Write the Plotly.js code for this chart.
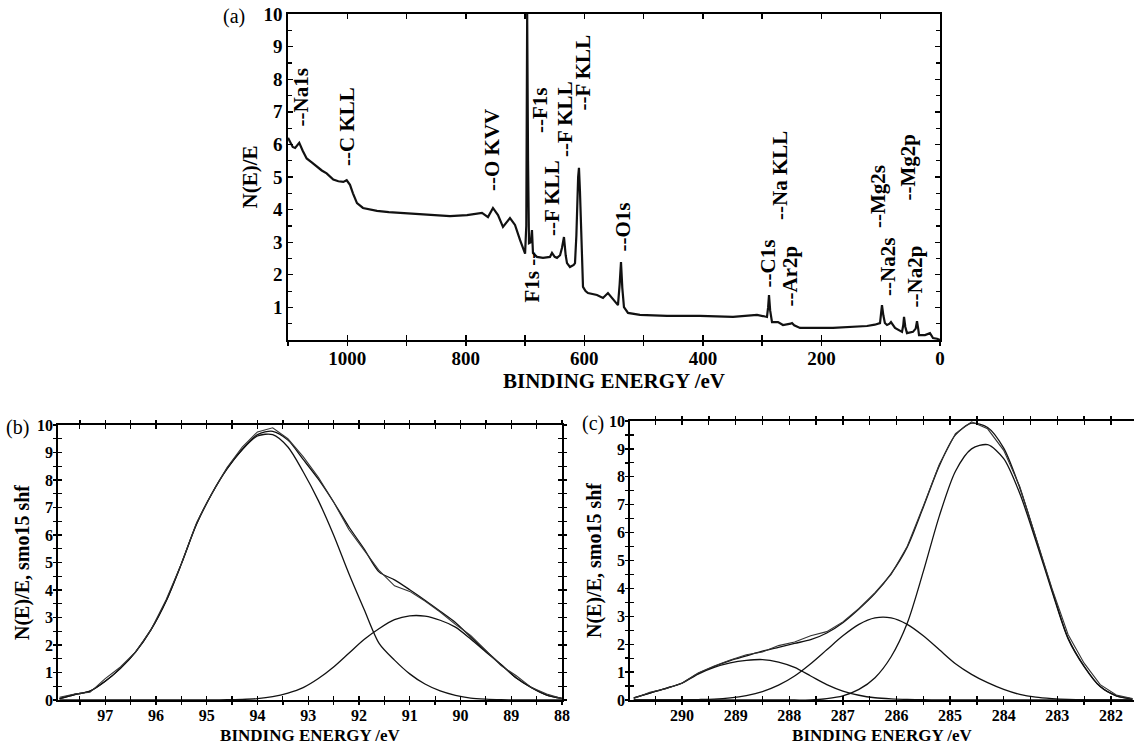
<!DOCTYPE html>
<html><head><meta charset="utf-8">
<script src="https://cdn.plot.ly/plotly-3.0.1.min.js"></script>
<style>html,body{margin:0;padding:0;background:#fff}#chart{width:1134px;height:747px}</style>
</head><body><div id="chart"></div>
<script>
// ---------- Panel (a): survey spectrum ----------
const surveyBE = [1100,1092,1088,1081,1075,1068.5,1060,1051.7,1043,1034.8,1023.6,1015,1006.7,1001,995.4,990.4,983.6,973.5,960,949.9,930,911,880,855.4,826.7,798,785,772.7,762.6,754.2,745.7,737.3,725.5,717,708.6,703,700,698,696.5,695,693.4,690.5,688.4,686.7,680,669.8,658,654.6,650,646.2,641,637.8,634.4,631.5,629.3,624.3,618,615.8,613.5,610.5,609.1,607.5,605.7,602.3,598,593.9,578.7,568.6,560.2,554,548.3,543.3,540.5,538.2,536,533.2,526.4,506.2,460.6,405,349.2,308.8,295,291.9,290,288.5,286.5,283.4,273.3,264.9,252,249.7,246,236.2,180.5,150,123.2,110,101.2,99.5,97.9,95.5,93,89.4,85,82.7,79,75.9,64.1,62,60.7,58.5,55.7,45.6,41,38.8,36.8,35.4,25.3,16.9,11.8,5,0];
const surveyN = [6.2,5.92,5.89,6.05,5.8,5.57,5.45,5.32,5.2,5.11,4.92,4.87,4.85,4.9,4.76,4.5,4.2,4.05,3.99,3.96,3.92,3.9,3.86,3.83,3.8,3.83,3.86,3.9,3.77,4.05,3.83,3.47,3.74,3.53,3.07,2.75,2.65,3.5,10,5.5,2.97,3.0,3.37,2.67,2.55,2.52,2.55,2.67,2.55,2.52,2.6,2.82,3.16,2.6,2.36,2.24,2.3,2.36,3.2,5.0,5.28,4.6,3.28,1.63,1.5,1.44,1.38,1.29,1.44,1.3,1.17,1.07,1.7,2.39,1.6,1.01,0.83,0.77,0.74,0.74,0.71,0.77,0.72,0.71,1.0,1.38,0.9,0.55,0.55,0.46,0.5,0.52,0.45,0.37,0.37,0.4,0.43,0.47,0.52,0.8,1.07,0.75,0.52,0.46,0.5,0.55,0.45,0.37,0.25,0.45,0.71,0.4,0.21,0.25,0.35,0.58,0.35,0.15,0.15,0.21,0.06,0.04,0];
const surveyTickVals = [0,100,200,300,400,500,600,700,800,900,1000,1100];
const surveyTickText = ['0','','200','','400','','600','','800','','1000',''];
const surveyYTicks = [1,2,3,4,5,6,7,8,9,10];
const peakLabels = ['--Na1s','--C KLL','--O KVV','F1s --','--F1s','--F KLL','--F KLL','--F KLL','--O1s','--C1s','--Na KLL','--Ar2p','--Mg2s','--Na2s','--Mg2p','--Na2p'];

// ---------- Panel (b): Mg 2s region ----------
const mgBE = [97.9,97.6,97.3,97.0,96.7,96.4,96.1,95.8,95.5,95.2,94.9,94.6,94.3,94.0,93.7,93.4,93.1,92.8,92.5,92.2,91.9,91.6,91.3,91.0,90.7,90.4,90.1,89.8,89.5,89.2,88.9,88.6,88.3,88.0];
const mgRaw = [0.1,0.22,0.28,0.78,1.2,1.75,2.55,3.65,4.95,6.45,7.5,8.45,9.2,9.75,9.9,9.5,8.85,8.1,7.2,6.2,5.45,4.7,4.15,3.95,3.6,3.2,2.75,2.35,1.8,1.25,0.88,0.45,0.22,0.05];
const mgEnvelope = [0.05,0.2,0.32,0.68,1.15,1.75,2.55,3.6,4.95,6.4,7.5,8.41,9.12,9.65,9.77,9.45,8.75,8.03,7.2,6.3,5.5,4.65,4.37,4.01,3.63,3.23,2.82,2.29,1.78,1.29,0.8,0.45,0.18,0.06];
const mgComp1 = [0.05,0.2,0.32,0.68,1.15,1.75,2.55,3.6,4.95,6.4,7.5,8.4,9.1,9.6,9.65,9.2,8.3,7.25,6.0,4.6,3.3,2.05,1.45,0.95,0.58,0.33,0.17,0.07,0.03,0.01,0,0,0,0];
const mgComp2 = [0,0,0,0,0,0,0,0,0,0,0,0.01,0.02,0.05,0.12,0.25,0.45,0.78,1.2,1.7,2.2,2.6,2.92,3.06,3.05,2.9,2.65,2.22,1.75,1.28,0.8,0.45,0.18,0.06];
const mgTicks = [88,89,90,91,92,93,94,95,96,97];

// ---------- Panel (c): C 1s region ----------
const cBE = [290.9,290.6,290.3,290.0,289.7,289.4,289.1,288.8,288.5,288.2,287.9,287.6,287.3,287.0,286.7,286.4,286.1,285.8,285.5,285.2,284.9,284.6,284.3,284.0,283.7,283.4,283.1,282.8,282.5,282.2,281.9,281.6];
const cRaw = [0.05,0.28,0.4,0.6,0.97,1.22,1.43,1.62,1.72,1.95,2.08,2.3,2.45,2.8,3.28,3.85,4.5,5.5,6.95,8.45,9.55,9.97,9.72,8.95,7.65,5.85,4.0,2.35,1.32,0.55,0.18,0.05];
const cEnvelope = [0.08,0.25,0.42,0.61,0.95,1.2,1.41,1.58,1.75,1.89,2.03,2.16,2.4,2.77,3.26,3.82,4.53,5.48,6.91,8.4,9.5,9.92,9.77,9.03,7.6,5.8,3.95,2.22,1.21,0.48,0.15,0.04];
const cCompMain = [0,0,0,0,0,0,0,0,0,0,0,0,0.05,0.15,0.38,0.8,1.55,2.75,4.6,6.6,8.2,9.0,9.15,8.65,7.4,5.7,3.9,2.2,1.2,0.48,0.15,0.04];
const cCompMid = [0,0,0,0.005,0.015,0.03,0.075,0.16,0.3,0.53,0.86,1.3,1.8,2.3,2.71,2.94,2.94,2.71,2.3,1.8,1.3,0.92,0.62,0.38,0.2,0.1,0.05,0.02,0.01,0,0,0];
const cCompHigh = [0.08,0.25,0.42,0.6,0.93,1.17,1.33,1.42,1.45,1.36,1.17,0.86,0.55,0.32,0.17,0.08,0.04,0.02,0.01,0,0,0,0,0,0,0,0,0,0,0,0,0];
const cTicks = [282,283,284,285,286,287,288,289,290];
const yTicks = [0,1,2,3,4,5,6,7,8,9,10];

const SERIF = 'Liberation Serif, Times New Roman, serif';
const INK = '#111';

function line(x, y, xa, ya, w, shape, color) {
  return {x: x, y: y, xaxis: xa, yaxis: ya, type: 'scatter', mode: 'lines',
    line: {color: color || INK, width: w, shape: shape || 'linear', smoothing: 0.8},
    hoverinfo: 'skip', showlegend: false};
}

const traces = [
  line(surveyBE, surveyN, 'x', 'y', 2.2),
  line(mgBE, mgComp1, 'x2', 'y2', 1.3, 'spline'),
  line(mgBE, mgComp2, 'x2', 'y2', 1.3, 'spline'),
  line(mgBE, mgEnvelope, 'x2', 'y2', 1.3, 'spline'),
  line(mgBE, mgRaw, 'x2', 'y2', 1.1, 'linear', '#333'),
  line(cBE, cCompMain, 'x3', 'y3', 1.3, 'spline'),
  line(cBE, cCompMid, 'x3', 'y3', 1.3, 'spline'),
  line(cBE, cCompHigh, 'x3', 'y3', 1.3, 'spline'),
  line(cBE, cEnvelope, 'x3', 'y3', 1.3, 'spline'),
  line(cBE, cRaw, 'x3', 'y3', 1.1, 'linear', '#333'),
  {x: [], y: [], xaxis: 'x4', yaxis: 'y', type: 'scatter', showlegend: false},
  {x: [], y: [], xaxis: 'x5', yaxis: 'y5', type: 'scatter', showlegend: false},
  {x: [], y: [], xaxis: 'x6', yaxis: 'y6', type: 'scatter', showlegend: false}
];

const tickFontA = {family: SERIF, size: 19, color: '#000', weight: 'bold'};
const tickFontB = {family: SERIF, size: 16, color: '#000', weight: 'bold'};
const titleFontA = {family: SERIF, size: 21, color: '#000', weight: 'bold'};
const titleFontB = {family: SERIF, size: 17, color: '#000', weight: 'bold'};
const yTitleFontB = {family: SERIF, size: 20, color: '#000', weight: 'bold'};

function baseAxis(extra) {
  return Object.assign({showgrid: false, zeroline: false, showline: true, linecolor: '#000',
    linewidth: 1.8, tickcolor: '#000', tickwidth: 1.4, automargin: false, fixedrange: true}, extra);
}
function overlayAxis(extra) {
  return Object.assign({showgrid: false, zeroline: false, showline: false, showticklabels: false,
    ticks: 'outside', ticklen: 4, tickcolor: '#000', tickwidth: 1.4, automargin: false, fixedrange: true}, extra);
}

const dA = {x: [288/1134, 940/1134], y: [1-340/747, 1-14/747]};
const dB = {x: [58/1134, 562/1134], y: [1-700/747, 1-425/747]};
const dC = {x: [630/1134, 1], y: [1-700/747, 1-421/747]};
const rA = [1100, 0], rB = [97.93, 88], rC = [290.97, 281.57];

const layout = {
  width: 1134, height: 747, margin: {l: 0, r: 0, t: 0, b: 0},
  paper_bgcolor: '#fff', plot_bgcolor: 'rgba(0,0,0,0)', showlegend: false,
  font: {family: SERIF, color: '#000'},
  xaxis: baseAxis({domain: dA.x, anchor: 'y', range: rA, tickmode: 'array', tickvals: surveyTickVals,
    ticktext: surveyTickText, ticks: 'inside', ticklen: 5, mirror: 'ticks', tickfont: tickFontA,
    title: {text: 'BINDING ENERGY /eV', font: titleFontA, standoff: 5}}),
  yaxis: baseAxis({domain: dA.y, anchor: 'x', range: [0, 10], tickmode: 'array', tickvals: surveyYTicks,
    ticks: 'inside', ticklen: 5, mirror: 'ticks', tickfont: tickFontA,
    minor: {tickmode: 'linear', tick0: 0, dtick: 0.5, ticks: 'inside', ticklen: 4, tickcolor: '#000', tickwidth: 1.2},
    title: {text: 'N(E)/E', font: titleFontA, standoff: 0}}),
  xaxis4: overlayAxis({overlaying: 'x', anchor: 'y', side: 'bottom', range: rA, tickmode: 'array',
    tickvals: surveyTickVals, ticklen: 5}),

  xaxis2: baseAxis({domain: dB.x, anchor: 'y2', range: rB, tickmode: 'array', tickvals: mgTicks,
    ticks: 'inside', ticklen: 4, mirror: 'ticks', tickfont: tickFontB,
    minor: {tickmode: 'linear', tick0: 0, dtick: 0.5, ticks: 'inside', ticklen: 4, tickcolor: '#000', tickwidth: 1.2},
    title: {text: 'BINDING ENERGY /eV', font: titleFontB, standoff: 6}}),
  yaxis2: baseAxis({domain: dB.y, anchor: 'x2', range: [0, 10], tickmode: 'array', tickvals: yTicks,
    ticks: 'inside', ticklen: 4, mirror: 'ticks', tickfont: tickFontB,
    minor: {tickmode: 'linear', tick0: 0, dtick: 0.5, ticks: 'inside', ticklen: 4, tickcolor: '#000', tickwidth: 1.2},
    title: {text: 'N(E)/E, smo15 shf', font: yTitleFontB, standoff: 2}}),
  xaxis5: overlayAxis({domain: dB.x, anchor: 'y5', range: rB, tickmode: 'linear', tick0: 0, dtick: 0.5, mirror: 'ticks'}),
  yaxis5: overlayAxis({domain: dB.y, anchor: 'x5', range: [0, 10], tickmode: 'linear', tick0: 0, dtick: 0.5, mirror: 'ticks'}),

  xaxis3: baseAxis({domain: dC.x, anchor: 'y3', range: rC, tickmode: 'array', tickvals: cTicks,
    ticks: 'inside', ticklen: 4, mirror: 'ticks', tickfont: tickFontB,
    minor: {tickmode: 'linear', tick0: 0, dtick: 0.5, ticks: 'inside', ticklen: 4, tickcolor: '#000', tickwidth: 1.2},
    title: {text: 'BINDING ENERGY /eV', font: titleFontB, standoff: 6}}),
  yaxis3: baseAxis({domain: dC.y, anchor: 'x3', range: [0, 10], tickmode: 'array', tickvals: yTicks,
    ticks: 'inside', ticklen: 4, mirror: false, tickfont: tickFontB,
    minor: {tickmode: 'linear', tick0: 0, dtick: 0.5, ticks: 'inside', ticklen: 4, tickcolor: '#000', tickwidth: 1.2},
    title: {text: 'N(E)/E, smo15 shf', font: yTitleFontB, standoff: 2}}),
  xaxis6: overlayAxis({domain: dC.x, anchor: 'y6', range: rC, tickmode: 'linear', tick0: 0, dtick: 0.5, mirror: 'ticks'}),
  yaxis6: overlayAxis({domain: dC.y, anchor: 'x6', range: [0, 10], tickmode: 'linear', tick0: 0, dtick: 0.5, mirror: false}),
  annotations: []
};

[['(a)', 234, 17], ['(b)', 17, 427], ['(c)', 593, 424]].forEach(function (p) {
  layout.annotations.push({text: p[0], xref: 'paper', yref: 'paper', x: p[1]/1134, y: 1 - p[2]/747,
    xanchor: 'center', yanchor: 'middle', showarrow: false,
    font: {family: SERIF, size: 20, color: '#000'}});
});
const peakLabelCentres = [[300,97.5],[347,127],[492,150],[532,277.5],[540,110],[552,198],[565,119],[583,72.5],
  [622,227.5],[768,263.5],[780,176],[790,276.5],[878,197],[888,267],[907,167.5],[915,276.5]];
peakLabels.forEach(function (t, i) {
  layout.annotations.push({text: t, xref: 'paper', yref: 'paper', x: peakLabelCentres[i][0]/1134,
    y: 1 - peakLabelCentres[i][1]/747, xanchor: 'center', yanchor: 'middle', textangle: -90,
    showarrow: false, font: {family: SERIF, size: 21, color: '#000', weight: 'bold'}});
});

Plotly.newPlot('chart', traces, layout, {displayModeBar: false, staticPlot: true});
</script>
</body></html>
